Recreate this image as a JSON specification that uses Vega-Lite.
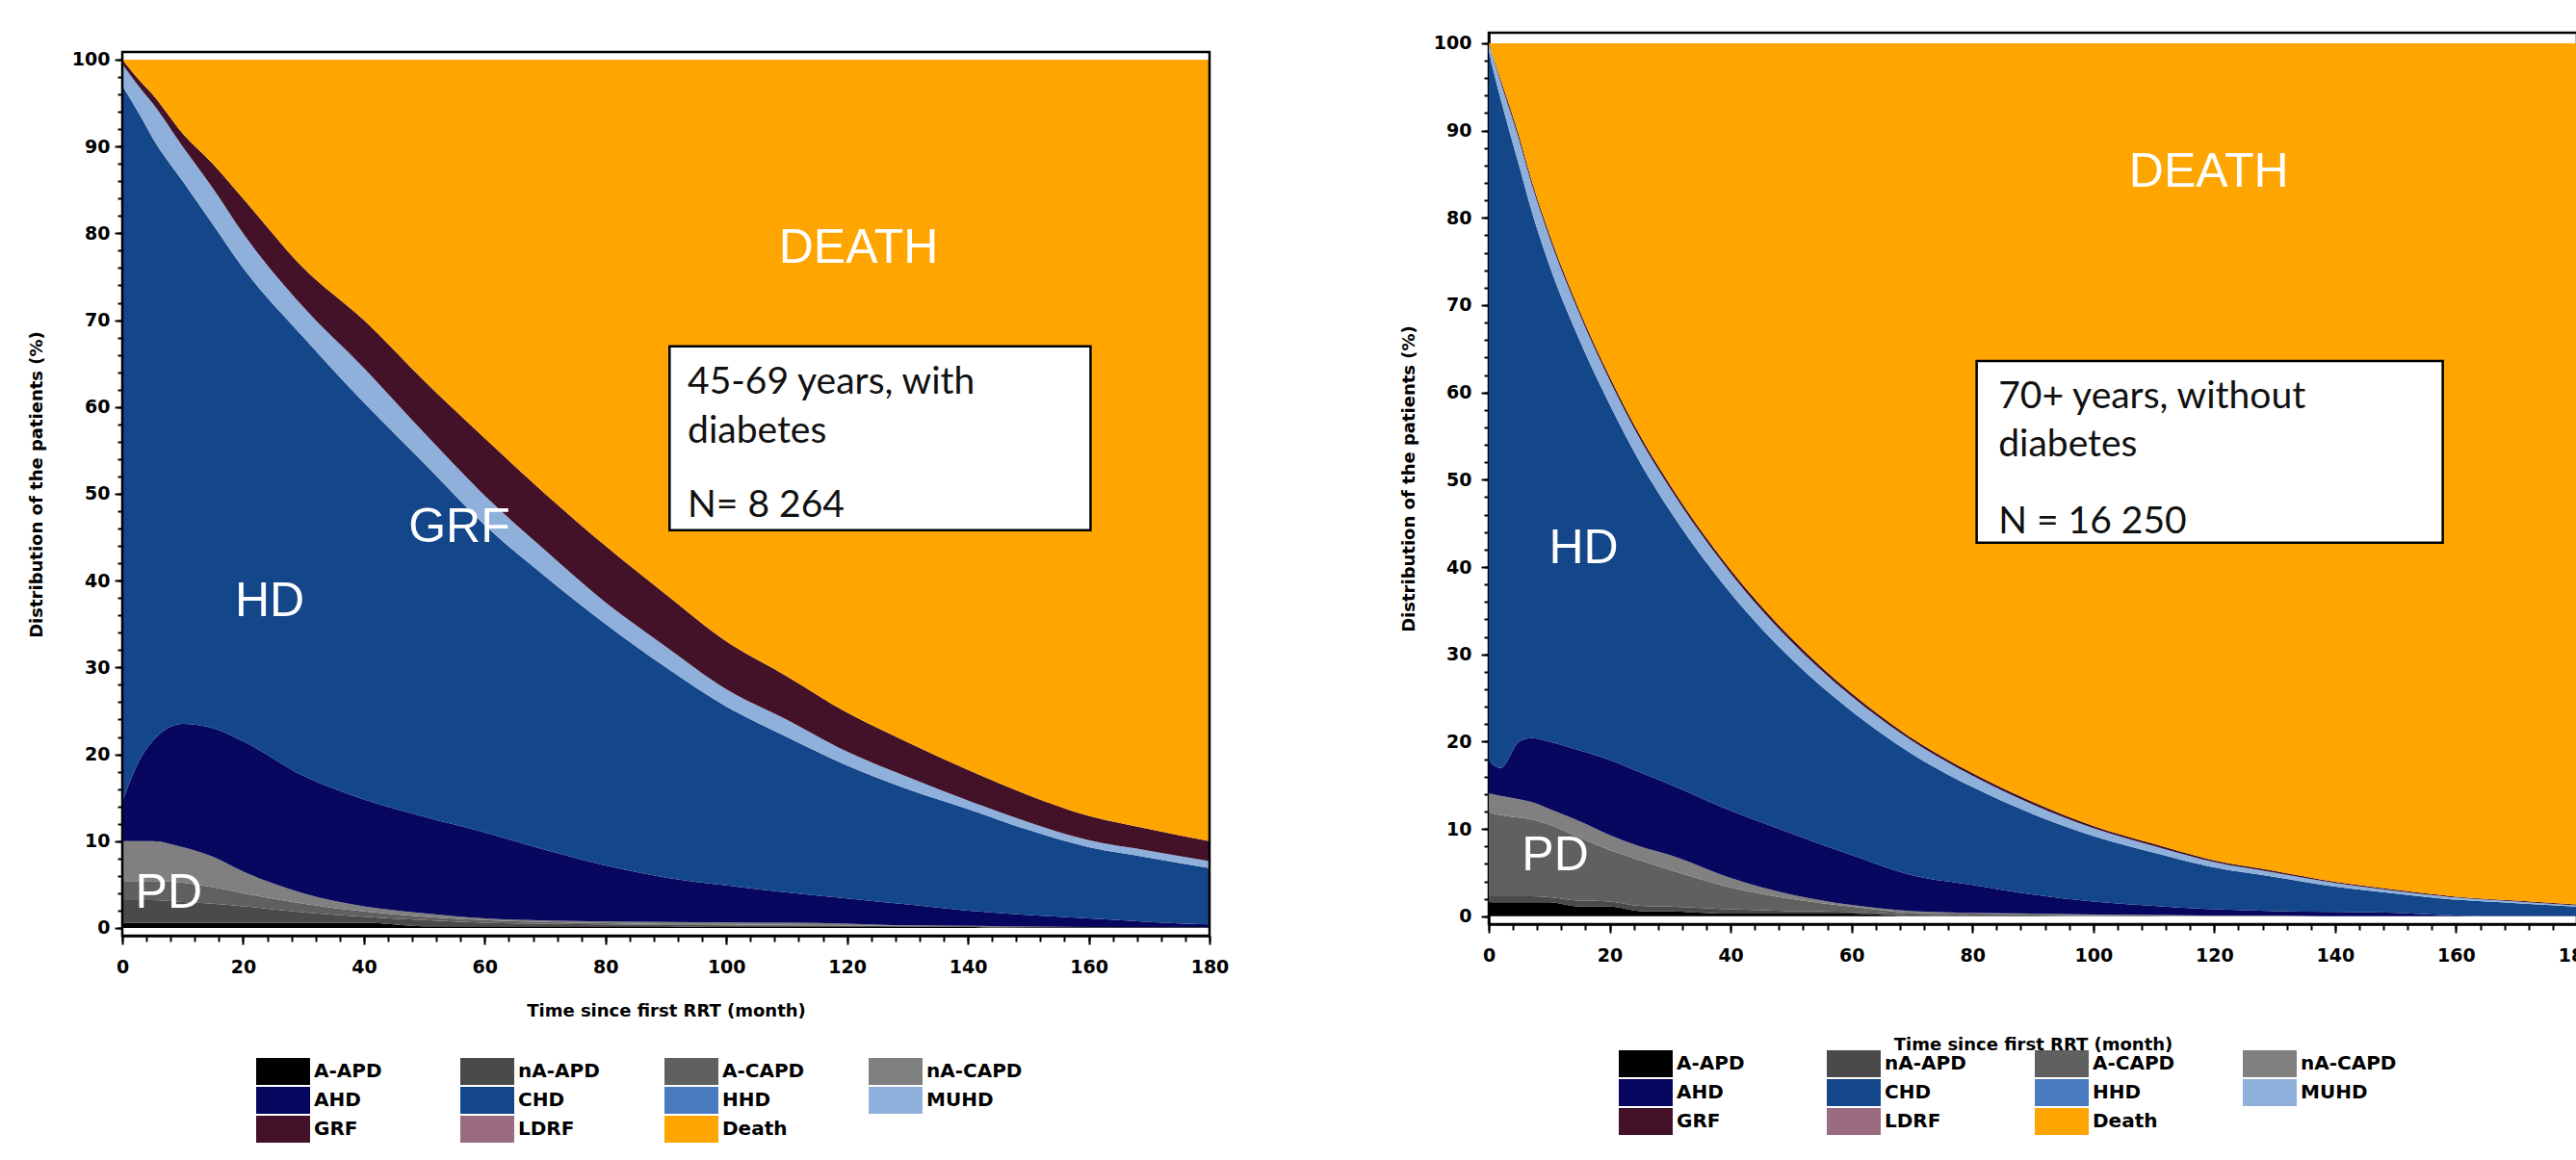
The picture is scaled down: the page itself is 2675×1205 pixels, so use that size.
{
  "$schema": "https://vega.github.io/schema/vega-lite/v6.json",
  "background": "white",
  "padding": {"left": 29, "top": 32, "right": 0, "bottom": 5},
  "spacing": 177,
  "datasets": {
    "cats": [
      {"cat": "A-APD", "k": 0}, {"cat": "nA-APD", "k": 1}, {"cat": "A-CAPD", "k": 2}, {"cat": "nA-CAPD", "k": 3},
      {"cat": "AHD", "k": 4}, {"cat": "CHD", "k": 5}, {"cat": "HHD", "k": 6}, {"cat": "MUHD", "k": 7},
      {"cat": "GRF", "k": 8}, {"cat": "LDRF", "k": 9}, {"cat": "Death", "k": 10}
    ],
    "left": [
      {"t": 0, "A-APD": 0.6, "nA-APD": 2.6, "A-CAPD": 2.2, "nA-CAPD": 4.6, "AHD": 4.5, "CHD": 82.5, "HHD": 0, "MUHD": 2.5, "GRF": 0.5, "LDRF": 0, "Death": 0},
      {"t": 3, "A-APD": 0.6, "nA-APD": 2.6, "A-CAPD": 2.2, "nA-CAPD": 4.6, "AHD": 9.5, "CHD": 74, "HHD": 0, "MUHD": 3.2, "GRF": 0.8, "LDRF": 0, "Death": 2.5},
      {"t": 5, "A-APD": 0.6, "nA-APD": 2.6, "A-CAPD": 2.2, "nA-CAPD": 4.6, "AHD": 11.5, "CHD": 69.5, "HHD": 0, "MUHD": 4, "GRF": 1, "LDRF": 0, "Death": 4},
      {"t": 10, "A-APD": 0.6, "nA-APD": 2.4, "A-CAPD": 2.2, "nA-CAPD": 4.1, "AHD": 14.2, "CHD": 62.5, "HHD": 0, "MUHD": 4, "GRF": 1.5, "LDRF": 0, "Death": 8.5},
      {"t": 15, "A-APD": 0.6, "nA-APD": 2.2, "A-CAPD": 1.9, "nA-CAPD": 3.5, "AHD": 14.8, "CHD": 58, "HHD": 0, "MUHD": 4.2, "GRF": 2.8, "LDRF": 0, "Death": 12},
      {"t": 20, "A-APD": 0.6, "nA-APD": 1.9, "A-CAPD": 1.5, "nA-CAPD": 2.5, "AHD": 15, "CHD": 54.5, "HHD": 0, "MUHD": 4, "GRF": 4, "LDRF": 0, "Death": 16},
      {"t": 30, "A-APD": 0.6, "nA-APD": 1.2, "A-CAPD": 1.0, "nA-CAPD": 1.2, "AHD": 13.5, "CHD": 50.5, "HHD": 0, "MUHD": 3.5, "GRF": 4.5, "LDRF": 0, "Death": 24},
      {"t": 40, "A-APD": 0.6, "nA-APD": 0.7, "A-CAPD": 0.6, "nA-CAPD": 0.6, "AHD": 12.3, "CHD": 45.7, "HHD": 0, "MUHD": 4, "GRF": 5.5, "LDRF": 0, "Death": 30},
      {"t": 50, "A-APD": 0.2, "nA-APD": 0.7, "A-CAPD": 0.4, "nA-CAPD": 0.4, "AHD": 11.1, "CHD": 40.7, "HHD": 0, "MUHD": 3.5, "GRF": 6, "LDRF": 0, "Death": 37},
      {"t": 60, "A-APD": 0.2, "nA-APD": 0.4, "A-CAPD": 0.3, "nA-CAPD": 0.2, "AHD": 9.9, "CHD": 35.4, "HHD": 0, "MUHD": 3.4, "GRF": 6.6, "LDRF": 0, "Death": 43.6},
      {"t": 70, "A-APD": 0.2, "nA-APD": 0.3, "A-CAPD": 0.2, "nA-CAPD": 0.15, "AHD": 8.15, "CHD": 31.5, "HHD": 0, "MUHD": 3, "GRF": 6.5, "LDRF": 0, "Death": 50},
      {"t": 80, "A-APD": 0.2, "nA-APD": 0.2, "A-CAPD": 0.15, "nA-CAPD": 0.2, "AHD": 6.45, "CHD": 27.8, "HHD": 0, "MUHD": 2.5, "GRF": 6.5, "LDRF": 0, "Death": 56},
      {"t": 90, "A-APD": 0.2, "nA-APD": 0.15, "A-CAPD": 0.1, "nA-CAPD": 0.25, "AHD": 5.1, "CHD": 24.2, "HHD": 0, "MUHD": 2.4, "GRF": 6, "LDRF": 0, "Death": 61.6},
      {"t": 100, "A-APD": 0.1, "nA-APD": 0.2, "A-CAPD": 0.1, "nA-CAPD": 0.25, "AHD": 4.25, "CHD": 20.6, "HHD": 0, "MUHD": 2, "GRF": 5.5, "LDRF": 0, "Death": 67},
      {"t": 110, "A-APD": 0.1, "nA-APD": 0.2, "A-CAPD": 0.05, "nA-CAPD": 0.25, "AHD": 3.5, "CHD": 17.9, "HHD": 0, "MUHD": 2, "GRF": 5, "LDRF": 0, "Death": 71},
      {"t": 120, "A-APD": 0.1, "nA-APD": 0.15, "A-CAPD": 0.05, "nA-CAPD": 0.2, "AHD": 2.9, "CHD": 15.3, "HHD": 0, "MUHD": 1.6, "GRF": 4.5, "LDRF": 0, "Death": 75.2},
      {"t": 130, "A-APD": 0.1, "nA-APD": 0.1, "A-CAPD": 0.05, "nA-CAPD": 0.05, "AHD": 2.4, "CHD": 13.3, "HHD": 0, "MUHD": 1.4, "GRF": 4, "LDRF": 0, "Death": 78.6},
      {"t": 140, "A-APD": 0.1, "nA-APD": 0.1, "A-CAPD": 0.05, "nA-CAPD": 0, "AHD": 1.75, "CHD": 11.7, "HHD": 0, "MUHD": 1.0, "GRF": 3.5, "LDRF": 0, "Death": 81.8},
      {"t": 150, "A-APD": 0, "nA-APD": 0.1, "A-CAPD": 0.05, "nA-CAPD": 0, "AHD": 1.35, "CHD": 9.8, "HHD": 0, "MUHD": 0.9, "GRF": 3.1, "LDRF": 0, "Death": 84.7},
      {"t": 160, "A-APD": 0, "nA-APD": 0.1, "A-CAPD": 0.02, "nA-CAPD": 0, "AHD": 0.98, "CHD": 8.2, "HHD": 0, "MUHD": 0.8, "GRF": 2.8, "LDRF": 0, "Death": 87.1},
      {"t": 170, "A-APD": 0, "nA-APD": 0.1, "A-CAPD": 0.02, "nA-CAPD": 0, "AHD": 0.58, "CHD": 7.4, "HHD": 0, "MUHD": 0.8, "GRF": 2.5, "LDRF": 0, "Death": 88.6},
      {"t": 180, "A-APD": 0, "nA-APD": 0.1, "A-CAPD": 0.02, "nA-CAPD": 0, "AHD": 0.28, "CHD": 6.5, "HHD": 0, "MUHD": 0.8, "GRF": 2.3, "LDRF": 0, "Death": 90}
    ],
    "right": [
      {"t": 0, "A-APD": 1.6, "nA-APD": 0.7, "A-CAPD": 9.6, "nA-CAPD": 2.2, "AHD": 3.7, "CHD": 81.2, "HHD": 0, "MUHD": 1.0, "GRF": 0, "LDRF": 0, "Death": 0},
      {"t": 2, "A-APD": 1.6, "nA-APD": 0.7, "A-CAPD": 9.3, "nA-CAPD": 2.2, "AHD": 3.2, "CHD": 76.5, "HHD": 0, "MUHD": 2.0, "GRF": 0.3, "LDRF": 0, "Death": 4.2},
      {"t": 5, "A-APD": 1.6, "nA-APD": 0.7, "A-CAPD": 9.0, "nA-CAPD": 2.1, "AHD": 6.6, "CHD": 66.0, "HHD": 0, "MUHD": 3.0, "GRF": 0.4, "LDRF": 0, "Death": 10.6},
      {"t": 7, "A-APD": 1.6, "nA-APD": 0.7, "A-CAPD": 8.8, "nA-CAPD": 2.0, "AHD": 7.3, "CHD": 60.6, "HHD": 0, "MUHD": 3.1, "GRF": 0.4, "LDRF": 0, "Death": 15.5},
      {"t": 10, "A-APD": 1.6, "nA-APD": 0.6, "A-CAPD": 8.3, "nA-CAPD": 1.8, "AHD": 7.7, "CHD": 54.6, "HHD": 0, "MUHD": 3.2, "GRF": 0.4, "LDRF": 0, "Death": 21.8},
      {"t": 15, "A-APD": 1.1, "nA-APD": 0.7, "A-CAPD": 7.2, "nA-CAPD": 1.9, "AHD": 8.1, "CHD": 47.0, "HHD": 0, "MUHD": 3.0, "GRF": 0.4, "LDRF": 0, "Death": 30.6},
      {"t": 20, "A-APD": 1.1, "nA-APD": 0.6, "A-CAPD": 5.9, "nA-CAPD": 1.7, "AHD": 8.6, "CHD": 40.7, "HHD": 0, "MUHD": 2.8, "GRF": 0.4, "LDRF": 0, "Death": 38.2},
      {"t": 25, "A-APD": 0.6, "nA-APD": 0.6, "A-CAPD": 5.2, "nA-CAPD": 1.6, "AHD": 8.5, "CHD": 35.5, "HHD": 0, "MUHD": 2.7, "GRF": 0.4, "LDRF": 0, "Death": 44.9},
      {"t": 30, "A-APD": 0.55, "nA-APD": 0.55, "A-CAPD": 4.2, "nA-CAPD": 1.7, "AHD": 8.1, "CHD": 31.3, "HHD": 0, "MUHD": 2.6, "GRF": 0.4, "LDRF": 0, "Death": 50.6},
      {"t": 40, "A-APD": 0.3, "nA-APD": 0.5, "A-CAPD": 2.5, "nA-CAPD": 1.1, "AHD": 7.7, "CHD": 24.9, "HHD": 0, "MUHD": 2.3, "GRF": 0.4, "LDRF": 0, "Death": 60.3},
      {"t": 50, "A-APD": 0.3, "nA-APD": 0.3, "A-CAPD": 1.4, "nA-CAPD": 0.5, "AHD": 7.0, "CHD": 20.0, "HHD": 0, "MUHD": 2.0, "GRF": 0.4, "LDRF": 0, "Death": 68.1},
      {"t": 60, "A-APD": 0.3, "nA-APD": 0.2, "A-CAPD": 0.6, "nA-CAPD": 0.2, "AHD": 5.7, "CHD": 16.5, "HHD": 0, "MUHD": 1.7, "GRF": 0.35, "LDRF": 0, "Death": 74.45},
      {"t": 70, "A-APD": 0, "nA-APD": 0.2, "A-CAPD": 0.2, "nA-CAPD": 0.2, "AHD": 4.1, "CHD": 13.9, "HHD": 0, "MUHD": 1.5, "GRF": 0.3, "LDRF": 0, "Death": 79.6},
      {"t": 80, "A-APD": 0, "nA-APD": 0.1, "A-CAPD": 0.2, "nA-CAPD": 0.1, "AHD": 3.2, "CHD": 11.2, "HHD": 0, "MUHD": 1.3, "GRF": 0.3, "LDRF": 0, "Death": 83.6},
      {"t": 90, "A-APD": 0, "nA-APD": 0.1, "A-CAPD": 0.1, "nA-CAPD": 0.1, "AHD": 2.2, "CHD": 9.2, "HHD": 0, "MUHD": 1.1, "GRF": 0.3, "LDRF": 0, "Death": 86.9},
      {"t": 100, "A-APD": 0, "nA-APD": 0.05, "A-CAPD": 0.1, "nA-CAPD": 0.05, "AHD": 1.5, "CHD": 7.5, "HHD": 0, "MUHD": 0.9, "GRF": 0.25, "LDRF": 0, "Death": 89.65},
      {"t": 110, "A-APD": 0, "nA-APD": 0, "A-CAPD": 0.1, "nA-CAPD": 0.05, "AHD": 1.05, "CHD": 6.1, "HHD": 0, "MUHD": 0.75, "GRF": 0.25, "LDRF": 0, "Death": 91.7},
      {"t": 120, "A-APD": 0, "nA-APD": 0, "A-CAPD": 0, "nA-CAPD": 0.1, "AHD": 0.7, "CHD": 4.8, "HHD": 0, "MUHD": 0.6, "GRF": 0.2, "LDRF": 0, "Death": 93.6},
      {"t": 130, "A-APD": 0, "nA-APD": 0, "A-CAPD": 0, "nA-CAPD": 0.1, "AHD": 0.5, "CHD": 3.9, "HHD": 0, "MUHD": 0.5, "GRF": 0.2, "LDRF": 0, "Death": 94.8},
      {"t": 140, "A-APD": 0, "nA-APD": 0, "A-CAPD": 0, "nA-CAPD": 0, "AHD": 0.5, "CHD": 2.9, "HHD": 0, "MUHD": 0.4, "GRF": 0.15, "LDRF": 0, "Death": 96.05},
      {"t": 150, "A-APD": 0, "nA-APD": 0, "A-CAPD": 0, "nA-CAPD": 0, "AHD": 0.4, "CHD": 2.2, "HHD": 0, "MUHD": 0.3, "GRF": 0.15, "LDRF": 0, "Death": 96.95},
      {"t": 160, "A-APD": 0, "nA-APD": 0, "A-CAPD": 0, "nA-CAPD": 0, "AHD": 0.1, "CHD": 1.8, "HHD": 0, "MUHD": 0.25, "GRF": 0.1, "LDRF": 0, "Death": 97.75},
      {"t": 170, "A-APD": 0, "nA-APD": 0, "A-CAPD": 0, "nA-CAPD": 0, "AHD": 0, "CHD": 1.5, "HHD": 0, "MUHD": 0.2, "GRF": 0.1, "LDRF": 0, "Death": 98.2},
      {"t": 180, "A-APD": 0, "nA-APD": 0, "A-CAPD": 0, "nA-CAPD": 0, "AHD": 0, "CHD": 1.1, "HHD": 0, "MUHD": 0.15, "GRF": 0.1, "LDRF": 0, "Death": 98.65}
    ],
    "leftFrame": [{"t": 0, "t2": 180, "pct": -0.89, "pct2": 100.89}],
    "leftBox": [{"t": 90.6, "t2": 160.3, "pct": 45.8, "pct2": 67.0}],
    "rightBox": [{"t": 80.7, "t2": 157.8, "pct": 42.8, "pct2": 63.6}],
    "leftText": [
      {"t": 93.6, "pct": 61.5, "txt": "45-69 years, with"},
      {"t": 93.6, "pct": 55.9, "txt": "diabetes"},
      {"t": 93.6, "pct": 47.3, "txt": "N= 8 264"}
    ],
    "rightText": [
      {"t": 84.3, "pct": 58.2, "txt": "70+ years, without"},
      {"t": 84.3, "pct": 52.7, "txt": "diabetes"},
      {"t": 84.3, "pct": 43.9, "txt": "N = 16 250"}
    ],
    "leftLabels": [
      {"t": 121.9, "pct": 78.3, "txt": "DEATH"},
      {"t": 24.4, "pct": 37.6, "txt": "HD"},
      {"t": 55.8, "pct": 46.1, "txt": "GRF"},
      {"t": 7.7, "pct": 4.0, "txt": "PD"}
    ],
    "rightLabels": [
      {"t": 119.1, "pct": 85.2, "txt": "DEATH"},
      {"t": 15.7, "pct": 42.1, "txt": "HD"},
      {"t": 11.0, "pct": 6.9, "txt": "PD"}
    ]
  },
  "hconcat": [
    {
      "width": 1129,
      "height": 938,
      "view": {"stroke": null},
      "resolve": {"axis": {"x": "independent", "y": "independent"}},
      "layer": [
        {
          "data": {"name": "left"},
          "transform": [
            {"fold": ["A-APD", "nA-APD", "A-CAPD", "nA-CAPD", "AHD", "CHD", "HHD", "MUHD", "GRF", "LDRF", "Death"], "as": ["cat", "pct"]},
            {"lookup": "cat", "from": {"data": {"name": "cats"}, "key": "cat", "fields": ["k"]}}
          ],
          "mark": {"type": "area", "interpolate": "monotone"},
          "encoding": {
            "x": {"field": "t", "type": "quantitative", "scale": {"domain": [0, 180], "nice": false, "zero": false},
              "axis": {"orient": "bottom", "title": "Time since first RRT (month)", "values": [0,20,40,60,80,100,120,140,160,180],
                "tickSize": 9, "labelPadding": 14, "titlePadding": 27}},
            "y": {"field": "pct", "type": "quantitative", "stack": "zero", "scale": {"domain": [-0.89, 103.1], "nice": false, "zero": false},
              "axis": {"orient": "left", "title": "Distribution of the patients (%)", "values": [0,10,20,30,40,50,60,70,80,90,100],
                "tickSize": 8, "domain": false, "labelPadding": 5, "titlePadding": 27}},
            "color": {"field": "cat", "type": "nominal",
              "scale": {"domain": ["A-APD", "nA-APD", "A-CAPD", "nA-CAPD", "AHD", "CHD", "HHD", "MUHD", "GRF", "LDRF", "Death"],
                "range": ["#000000", "#4a4a4a", "#606060", "#808080", "#07075f", "#14468a", "#4a7abf", "#8fb0db", "#431128", "#9b6b80", "#ffa500"]},
              "legend": {"orient": "none", "legendX": 139, "legendY": 1065, "columnPadding": 52}},
            "order": {"field": "k", "type": "quantitative"}
          }
        },
        {
          "data": {"name": "leftBox"},
          "mark": {"type": "rect", "fill": "white", "stroke": "#000", "strokeWidth": 2.5},
          "encoding": {
            "x": {"field": "t", "type": "quantitative",
              "axis": {"orient": "bottom", "title": null, "labels": false, "domain": false, "tickSize": 6,
                "values": [0,4,8,12,16,20,24,28,32,36,40,44,48,52,56,60,64,68,72,76,80,84,88,92,96,100,104,108,112,116,120,124,128,132,136,140,144,148,152,156,160,164,168,172,176,180]}},
            "x2": {"field": "t2"},
            "y": {"field": "pct", "type": "quantitative",
              "axis": {"orient": "left", "title": null, "labels": false, "domain": false, "tickSize": 5,
                "values": [0,2,4,6,8,10,12,14,16,18,20,22,24,26,28,30,32,34,36,38,40,42,44,46,48,50,52,54,56,58,60,62,64,66,68,70,72,74,76,78,80,82,84,86,88,90,92,94,96,98,100]}},
            "y2": {"field": "pct2"}
          }
        },
        {
          "data": {"name": "leftText"},
          "mark": {"type": "text", "align": "left", "baseline": "alphabetic", "font": "Lato", "fontSize": 39, "color": "#111"},
          "encoding": {
            "x": {"field": "t", "type": "quantitative", "axis": null},
            "y": {"field": "pct", "type": "quantitative", "axis": null},
            "text": {"field": "txt"}
          }
        },
        {
          "data": {"name": "leftLabels"},
          "mark": {"type": "text", "align": "center", "baseline": "middle", "font": "Liberation Sans", "fontSize": 50, "color": "white"},
          "encoding": {
            "x": {"field": "t", "type": "quantitative", "axis": null},
            "y": {"field": "pct", "type": "quantitative", "axis": null},
            "text": {"field": "txt"}
          }
        },
        {
          "data": {"name": "leftFrame"},
          "mark": {"type": "rect", "fill": "transparent", "stroke": "#000", "strokeWidth": 2.5},
          "encoding": {
            "x": {"field": "t", "type": "quantitative", "axis": null}, "x2": {"field": "t2"},
            "y": {"field": "pct", "type": "quantitative", "axis": null}, "y2": {"field": "pct2"}
          }
        }
      ]
    },
    {
      "width": 1130,
      "height": 926,
      "resolve": {"axis": {"x": "independent", "y": "independent"}},
      "layer": [
        {
          "data": {"name": "right"},
          "transform": [
            {"fold": ["A-APD", "nA-APD", "A-CAPD", "nA-CAPD", "AHD", "CHD", "HHD", "MUHD", "GRF", "LDRF", "Death"], "as": ["cat", "pct"]},
            {"lookup": "cat", "from": {"data": {"name": "cats"}, "key": "cat", "fields": ["k"]}}
          ],
          "mark": {"type": "area", "interpolate": "monotone"},
          "encoding": {
            "x": {"field": "t", "type": "quantitative", "scale": {"domain": [0, 180], "nice": false, "zero": false},
              "axis": {"orient": "bottom", "title": "Time since first RRT (month)", "values": [0,20,40,60,80,100,120,140,160,180],
                "tickSize": 9, "labelPadding": 14, "titlePadding": 74}},
            "y": {"field": "pct", "type": "quantitative", "stack": "zero", "scale": {"domain": [-0.9, 101.2], "nice": false, "zero": false},
              "axis": {"orient": "left", "title": "Distribution of the patients (%)", "values": [0,10,20,30,40,50,60,70,80,90,100],
                "tickSize": 8, "labelPadding": 10, "titlePadding": 16}},
            "color": {"field": "cat", "type": "nominal",
              "scale": {"domain": ["A-APD", "nA-APD", "A-CAPD", "nA-CAPD", "AHD", "CHD", "HHD", "MUHD", "GRF", "LDRF", "Death"],
                "range": ["#000000", "#4a4a4a", "#606060", "#808080", "#07075f", "#14468a", "#4a7abf", "#8fb0db", "#431128", "#9b6b80", "#ffa500"]},
              "legend": {"orient": "none", "legendX": 135, "legendY": 1057, "columnPadding": 56}},
            "order": {"field": "k", "type": "quantitative"}
          }
        },
        {
          "data": {"name": "rightBox"},
          "mark": {"type": "rect", "fill": "white", "stroke": "#000", "strokeWidth": 2.5},
          "encoding": {
            "x": {"field": "t", "type": "quantitative",
              "axis": {"orient": "bottom", "title": null, "labels": false, "domain": false, "tickSize": 6,
                "values": [0,4,8,12,16,20,24,28,32,36,40,44,48,52,56,60,64,68,72,76,80,84,88,92,96,100,104,108,112,116,120,124,128,132,136,140,144,148,152,156,160,164,168,172,176,180]}},
            "x2": {"field": "t2"},
            "y": {"field": "pct", "type": "quantitative",
              "axis": {"orient": "left", "title": null, "labels": false, "domain": false, "tickSize": 5,
                "values": [0,2,4,6,8,10,12,14,16,18,20,22,24,26,28,30,32,34,36,38,40,42,44,46,48,50,52,54,56,58,60,62,64,66,68,70,72,74,76,78,80,82,84,86,88,90,92,94,96,98,100]}},
            "y2": {"field": "pct2"}
          }
        },
        {
          "data": {"name": "rightText"},
          "mark": {"type": "text", "align": "left", "baseline": "alphabetic", "font": "Lato", "fontSize": 39, "color": "#111"},
          "encoding": {
            "x": {"field": "t", "type": "quantitative", "axis": null},
            "y": {"field": "pct", "type": "quantitative", "axis": null},
            "text": {"field": "txt"}
          }
        },
        {
          "data": {"name": "rightLabels"},
          "mark": {"type": "text", "align": "center", "baseline": "middle", "font": "Liberation Sans", "fontSize": 50, "color": "white"},
          "encoding": {
            "x": {"field": "t", "type": "quantitative", "axis": null},
            "y": {"field": "pct", "type": "quantitative", "axis": null},
            "text": {"field": "txt"}
          }
        }
      ]
    }
  ],
  "resolve": {"scale": {"color": "independent"}},
  "config": {
    "view": {"stroke": "#000", "strokeWidth": 2.5},
    "axis": {
      "grid": false, "domainColor": "#000", "domainWidth": 2.5, "tickColor": "#000", "tickWidth": 2,
      "labelFont": "DejaVu Sans", "labelFontSize": 19, "labelFontWeight": "bold", "labelColor": "#000",
      "labelOverlap": false, "labelFlush": false,
      "titleFont": "DejaVu Sans", "titleFontSize": 18, "titleFontWeight": "bold", "titleColor": "#000"
    },
    "legend": {
      "columns": 4, "direction": "horizontal", "title": null,
      "symbolType": "M-2,-1H2V1H-2Z", "symbolSize": 784, "symbolOffset": 14, "labelOffset": 18,
      "symbolStrokeWidth": 0, "symbolOpacity": 1,
      "labelFont": "DejaVu Sans", "labelFontSize": 20, "labelFontWeight": "bold", "labelColor": "#000",
      "rowPadding": 2, "gridAlign": "all", "labelLimit": 200
    }
  }
}
